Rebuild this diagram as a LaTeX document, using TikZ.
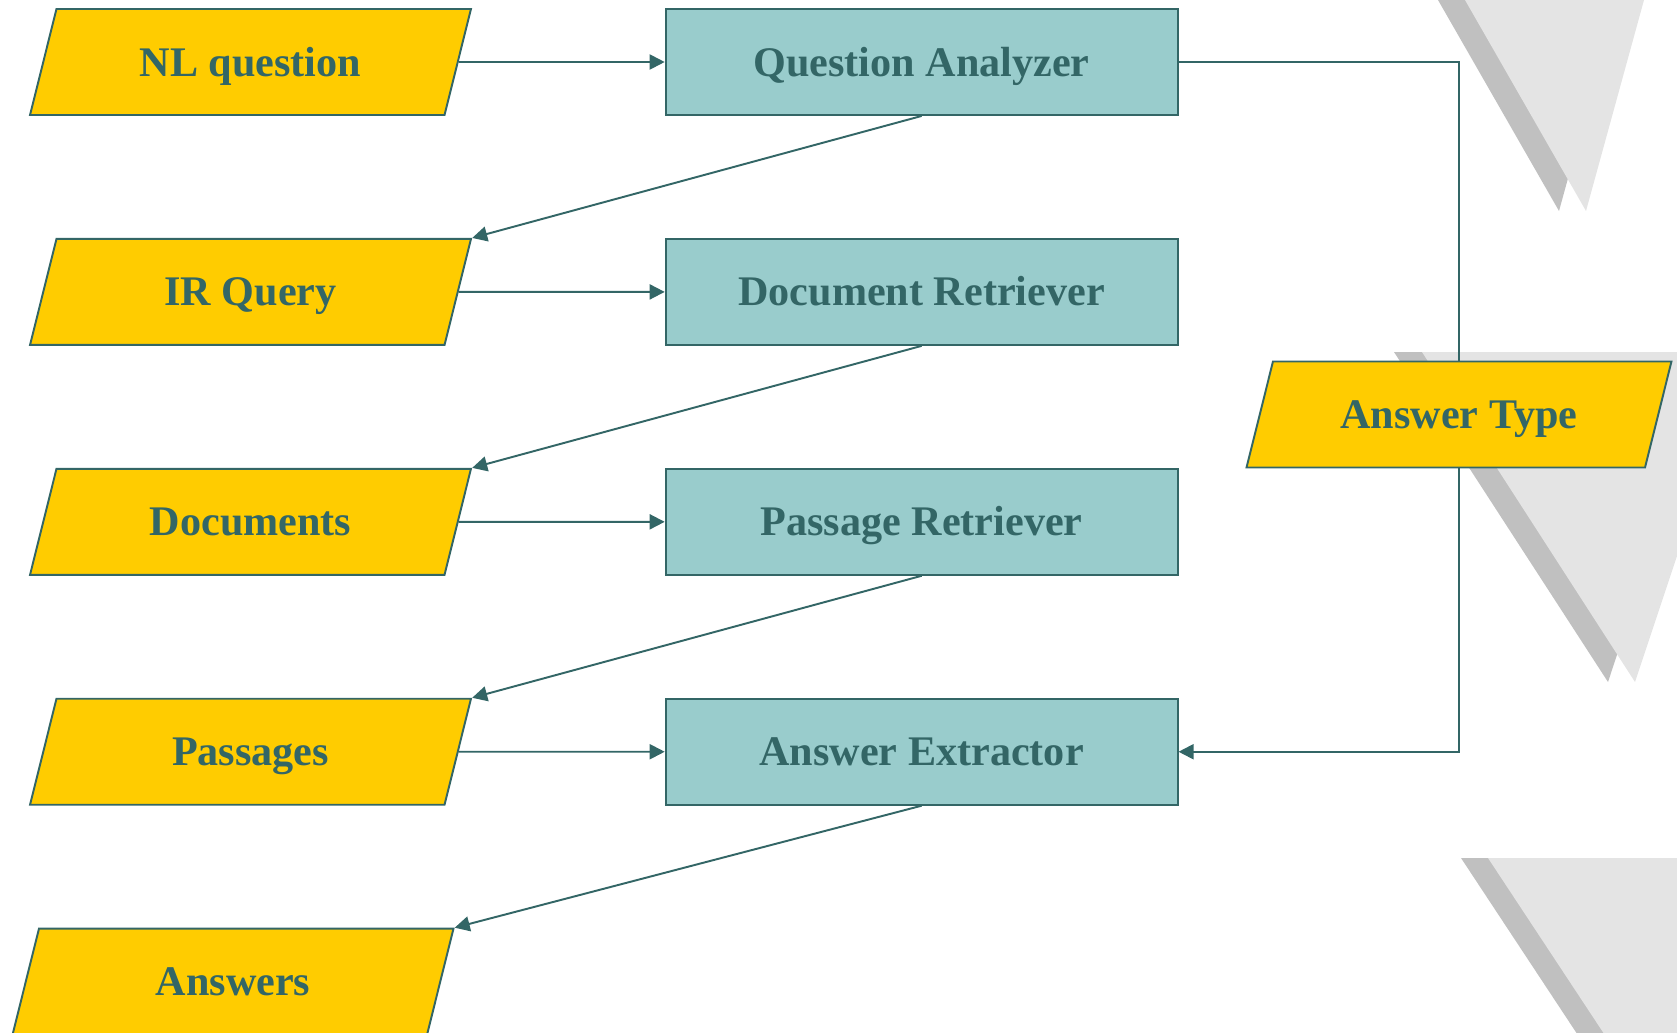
\documentclass[tikz,border=0pt]{standalone}
\usepackage{fontspec}
\setmainfont{Liberation Serif}
\usepackage{tikz}
\usetikzlibrary{positioning,shapes.geometric,arrows.meta}
\definecolor{qteal}{HTML}{336666}
\definecolor{qgold}{HTML}{FFCC00}
\definecolor{qaqua}{HTML}{99CCCC}
\definecolor{qgreyA}{HTML}{C0C0C0}
\definecolor{qgreyB}{HTML}{E4E4E4}
\tikzset{
boxfont/.style={text=qteal,font=\bfseries\fontsize{24}{28}\selectfont,text height=0.76cm,text depth=0.2cm},
databox/.style={trapezium,trapezium left angle=76,trapezium right angle=104,trapezium stretches body,
draw=qteal,line width=1.1pt,fill=qgold,minimum width=8.82cm,inner xsep=0pt,inner ysep=0.58cm,boxfont},
stagebox/.style={rectangle,draw=qteal,line width=1.1pt,fill=qaqua,minimum width=10.24cm,minimum height=2.12cm,inner sep=0pt,boxfont},
flowarrow/.style={-{Triangle[length=3mm,width=3mm]},line width=1.1pt,qteal},
feedline/.style={line width=1.1pt,qteal},
shadedark/.style={fill=qgreyA},
shadelight/.style={fill=qgreyB}
}

\begin{document}
\begin{tikzpicture}[x=0.02cm,y=-0.02cm]
\useasboundingbox (0,0) rectangle (1677,1032);
\clip (0,0) rectangle (1677,1032);
% decoration in the right margin
\fill[shadedark] (1438,0) -- (1617,0) -- (1559,211) -- cycle;
\fill[shadelight] (1465,0) -- (1644,0) -- (1586,211) -- cycle;
\fill[shadedark] (1394,352) -- (1717,352) -- (1608,682) -- cycle;
\fill[shadelight] (1422,352) -- (1745,352) -- (1635,682) -- cycle;
\fill[shadedark] (1461,858) -- (2073,858) -- (1725,1258) -- cycle;
\fill[shadelight] (1488,858) -- (2100,858) -- (1752,1258) -- cycle;

% data on the left, modules in the middle
\node[databox] (nl) at (250.5,62) {NL question};
\node[stagebox,right=4.12cm of nl] (qa) {Question Analyzer};
\node[databox,below=2.44cm of nl] (irq) {IR Query};
\node[stagebox,right=4.12cm of irq] (dr) {Document Retriever};
\node[databox,below=2.44cm of irq] (docs) {Documents};
\node[stagebox,right=4.12cm of docs] (pr) {Passage Retriever};
\node[databox,below=2.44cm of docs] (pas) {Passages};
\node[stagebox,right=4.12cm of pas] (ae) {Answer Extractor};
\node[databox,below=2.44cm of pas,xshift=-0.35cm] (ans) {Answers};
\node[databox,minimum width=8.5cm] (at) at (1459,414.5) {Answer Type};

\draw[flowarrow] (nl) -- (qa);
\draw[flowarrow] (qa.south) -- (irq.top right corner);
\draw[flowarrow] (irq) -- (dr);
\draw[flowarrow] (dr.south) -- (docs.top right corner);
\draw[flowarrow] (docs) -- (pr);
\draw[flowarrow] (pr.south) -- (pas.top right corner);
\draw[flowarrow] (pas) -- (ae);
\draw[flowarrow] (ae.south) -- (ans.top right corner);
% answer type goes to the extractor
\draw[feedline] (qa.east) -| (at.north);
\draw[flowarrow] (at.south) |- (ae.east);
\end{tikzpicture}
\end{document}
